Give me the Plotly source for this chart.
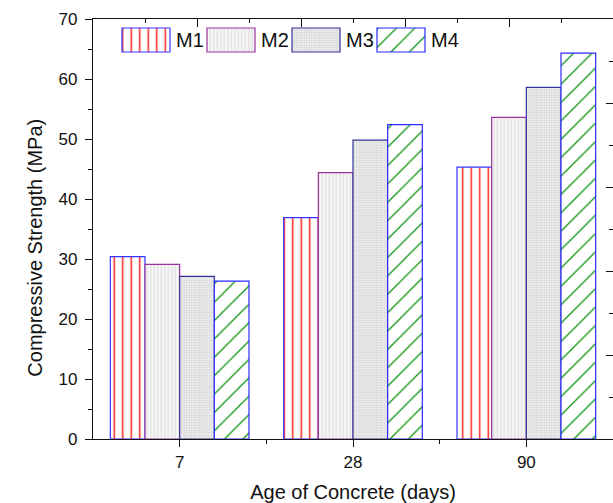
import plotly.graph_objects as go

# Compressive strength (MPa) of four mixes at three curing ages
ages = ["7", "28", "90"]
mixes = ["M1", "M2", "M3", "M4"]
m1 = [30.4, 36.9, 45.3]
m2 = [29.1, 44.4, 53.6]
m3 = [27.1, 49.8, 58.6]
m4 = [26.3, 52.4, 64.3]
values = [m1, m2, m3, m4]

# fill style of each mix: (outline, pattern shape, pattern fg, pattern bg, size, solidity)
styles = [
    ("#3535ff", "|", "#ff1a1a", "#ffffff", 8.5, 0.17),
    ("#99339a", "|", "#e0e0e0", "#f6f6f6", 3.5, 0.35),
    ("#333399", ".", "#d0d0d0", "#efefef", 2.5, 0.4),
    ("#2a2aff", "/", "#0f950f", "#ffffff", 13, 0.1),
]

FONT = "Liberation Sans, Arial, sans-serif"
fig = go.Figure()

pos = list(range(len(ages)))
for name, vals, st in zip(mixes, values, styles):
    line_c, shape, fg, bg, size, sol = st
    fig.add_trace(go.Bar(
        x=pos, y=vals, name=name, showlegend=False,
        marker=dict(
            color=bg,
            line=dict(color=line_c, width=1.2),
            pattern=dict(shape=shape, fgcolor=fg, bgcolor=bg, size=size,
                         solidity=sol, fillmode="replace"),
        ),
    ))

# legend keys drawn as boxes on the secondary (top/right) axes, whose units are pixels
key_left = [29, 114, 199, 284]
key_w, key_h, key_base = 48, 24, 387
for name, left, st in zip(mixes, key_left, styles):
    line_c, shape, fg, bg, size, sol = st
    fig.add_trace(go.Bar(
        x=[left + key_w / 2], y=[key_h], base=[key_base], width=[key_w],
        xaxis="x2", yaxis="y2", showlegend=False, hoverinfo="skip",
        marker=dict(
            color=bg,
            line=dict(color=line_c, width=1.2),
            pattern=dict(shape=shape, fgcolor=fg, bgcolor=bg, size=size,
                         solidity=sol, fillmode="replace"),
        ),
    ))
    fig.add_annotation(x=left + key_w + 4, y=key_base + key_h / 2, xref="x2", yref="y2",
                       text=name, showarrow=False, xanchor="left", yanchor="middle",
                       font=dict(family=FONT, size=20, color="#111111"))

# y-axis title placed slightly below the plot's vertical centre
fig.add_annotation(x=-0.112, y=0.455, xref="paper", yref="paper",
                   text="Compressive Strength (MPa)", textangle=-90, showarrow=False,
                   xanchor="center", yanchor="middle",
                   font=dict(family=FONT, size=20, color="#111111"))

axis_common = dict(showgrid=False, zeroline=False, linecolor="#111111", linewidth=1.3,
                   tickcolor="#111111", tickwidth=1.3)

fig.update_layout(
    width=613, height=503,
    margin=dict(l=93, r=0, t=19, b=64, pad=0),
    paper_bgcolor="white", plot_bgcolor="white",
    barmode="group", bargap=0.2, bargroupgap=0,
    font=dict(family=FONT, color="#111111"),
    xaxis=dict(
        range=[-0.5, 2.5], tickvals=pos, ticktext=ages,
        ticks="outside", ticklen=7, showline=True,
        minor=dict(tickvals=[0.5, 1.5], ticks="outside", ticklen=4,
                   tickcolor="#111111", tickwidth=1.3),
        tickfont=dict(size=17),
        title=dict(text="Age of Concrete (days)", font=dict(size=20), standoff=14),
        **axis_common,
    ),
    yaxis=dict(
        range=[0, 70], dtick=10, ticks="outside", ticklen=7, showline=True,
        minor=dict(dtick=5, ticks="outside", ticklen=4,
                   tickcolor="#111111", tickwidth=1.3),
        tickfont=dict(size=17), ticklabelstandoff=4,
        **axis_common,
    ),
    xaxis2=dict(
        overlaying="x", side="top", anchor="y2", range=[0, 520], dtick=104, tick0=0,
        ticks="inside", ticklen=8, showline=True, showticklabels=False,
        minor=dict(dtick=52, tick0=0, ticks="inside", ticklen=4,
                   tickcolor="#111111", tickwidth=1.3),
        **axis_common,
    ),
    yaxis2=dict(
        overlaying="y", side="right", anchor="x2", range=[0, 420], dtick=84, tick0=0,
        ticks="inside", ticklen=7, showline=False, showticklabels=False,
        minor=dict(dtick=42, tick0=0, ticks="inside", ticklen=4,
                   tickcolor="#111111", tickwidth=1.3),
        **axis_common,
    ),
)

fig.write_html("out.html")
